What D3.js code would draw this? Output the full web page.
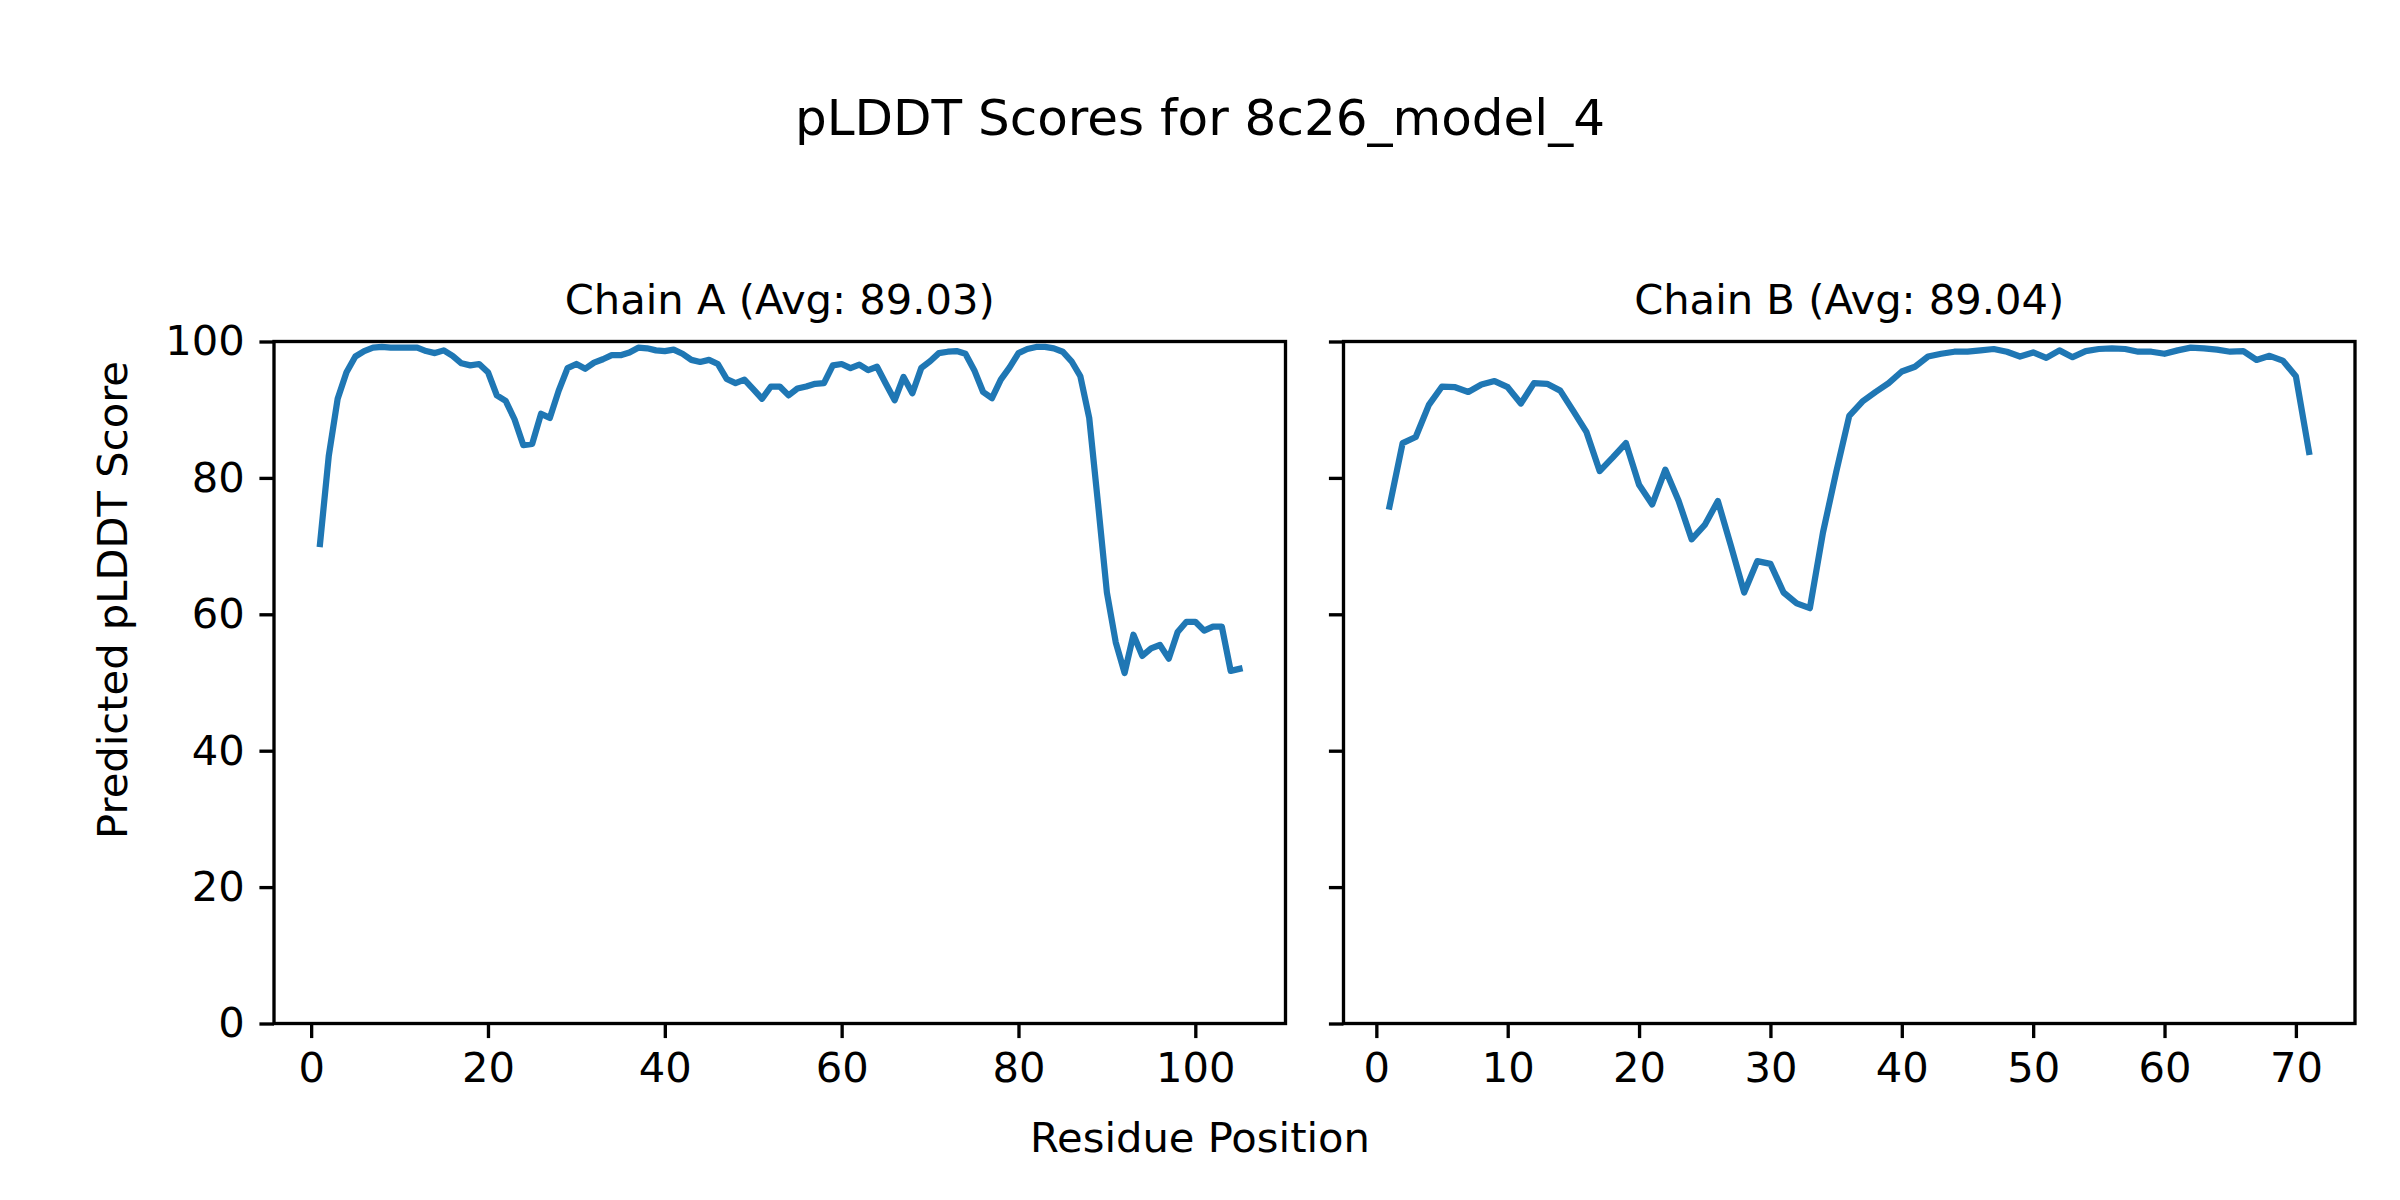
<!DOCTYPE html>
<html>
<head>
<meta charset="utf-8">
<script src="https://cdn.jsdelivr.net/npm/d3@7"></script>
<style>
  body { margin: 0; background: #fff; }
  text { font-family: 'DejaVu Sans', sans-serif; fill: #000; }
</style>
</head>
<body>
<div id="chart"></div>
<script>
// pLDDT per residue
let chainA = [
  70.3, 83.3, 91.6, 95.5, 97.8, 98.6, 99.1, 99.2, 99.1, 99.1,
  99.1, 99.1, 98.6, 98.3, 98.7, 97.9, 96.8, 96.5, 96.7, 95.5,
  92.1, 91.3, 88.6, 84.8, 85.0, 89.4, 88.8, 92.8, 96.1, 96.7,
  96.0, 96.9, 97.4, 98.0, 98.0, 98.4, 99.1, 99.0, 98.7, 98.6,
  98.8, 98.2, 97.3, 97.0, 97.3, 96.7, 94.5, 93.9, 94.4, 93.0,
  91.6, 93.4, 93.4, 92.1, 93.1, 93.4, 93.8, 93.9, 96.5, 96.7,
  96.1, 96.6, 95.8, 96.3, 93.8, 91.4, 94.8, 92.4, 96.1, 97.1,
  98.3, 98.5, 98.6, 98.2, 95.8, 92.6, 91.7, 94.4, 96.2, 98.3,
  98.9, 99.2, 99.2, 99.0, 98.5, 97.1, 94.9, 88.8, 76.2, 63.2,
  55.9, 51.4, 57.0, 53.9, 55.0, 55.5, 53.5, 57.4, 58.9, 58.9,
  57.6, 58.2, 58.2, 51.7, 52.0
]
let chainB = [
  75.8, 85.1, 86.0, 90.7, 93.4, 93.3, 92.6, 93.7, 94.2, 93.3,
  90.9, 93.9, 93.8, 92.8, 89.8, 86.7, 81.0, 83.0, 85.1, 79.0,
  76.1, 81.2, 76.7, 71.0, 73.1, 76.6, 70.0, 63.2, 67.8, 67.4,
  63.2, 61.6, 60.9, 72.0, 80.8, 89.1, 91.2, 92.6, 93.9, 95.6,
  96.3, 97.8, 98.2, 98.5, 98.5, 98.7, 98.9, 98.5, 97.8, 98.4,
  97.6, 98.7, 97.7, 98.6, 98.9, 99.0, 98.9, 98.5, 98.5, 98.2,
  98.7, 99.1, 99.0, 98.8, 98.5, 98.6, 97.3, 97.9, 97.2, 94.9,
  83.8
]
let chainTitles = ['Chain A (Avg: 89.03)', 'Chain B (Avg: 89.04)']
let ticksA = [0, 20, 40, 60, 80, 100]
let ticksB = [0, 10, 20, 30, 40, 50, 60, 70]
let ticksY = [0, 20, 40, 60, 80, 100]
let figTitle = 'pLDDT Scores for 8c26_model_4'
let xLabel = 'Residue Position'
let yLabel = 'Predicted pLDDT Score'

let width = 2400
let height = 1200
// 300 dpi: 10pt = 41.67px, 0.8pt = 3.33px
let pt = 300 / 72
let fontSize = 10 * pt
let tickLen = 3.5 * pt
let spineW = 0.8 * pt

let svg = d3
  .select('#chart')
  .append('svg')
  .attr('width', width)
  .attr('height', height)

svg.append('rect').attr('width', width).attr('height', height).attr('fill', '#fff')

let plotTop = 341.5
let plotBottom = 1023.5
let y = d3.scaleLinear().domain([0, 100]).range([plotBottom, plotTop])

// matplotlib-style 5% margins on x
function padded(n) {
  let m = (n - 1) * 0.05
  return [1 - m, n + m]
}

let panels = [
  { data: chainA, title: chainTitles[0], ticks: ticksA, left: 274, right: 1285.5, labels: true },
  { data: chainB, title: chainTitles[1], ticks: ticksB, left: 1343.5, right: 2355, labels: false }
]

let line = d3.line()

panels.forEach(function(p) {
  let x = d3.scaleLinear().domain(padded(p.data.length)).range([p.left, p.right])
  let g = svg.append('g')

  // data line
  g.append('path')
    .datum(p.data)
    .attr('d', line.x((d, i) => x(i + 1)).y(d => y(d)))
    .attr('fill', 'none')
    .attr('stroke', '#1f77b4')
    .attr('stroke-width', 1.5 * pt)
    .attr('stroke-linejoin', 'round')
    .attr('stroke-linecap', 'square')

  // x axis
  let xAxis = g.append('g')
    .attr('transform', `translate(0,${plotBottom})`)
    .call(d3.axisBottom(x).tickValues(p.ticks).tickSize(tickLen).tickPadding(tickLen).tickSizeOuter(0))
  xAxis.select('.domain').remove()

  // y axis
  let yAxis = g.append('g')
    .attr('transform', `translate(${p.left},0)`)
    .call(d3.axisLeft(y).tickValues(ticksY).tickSize(tickLen).tickPadding(tickLen).tickSizeOuter(0))
  yAxis.select('.domain').remove()
  if (!p.labels) yAxis.selectAll('text').remove()

  g.selectAll('.tick line').attr('stroke', '#000').attr('stroke-width', spineW)
  g.selectAll('.tick text')
    .attr('font-size', fontSize)
    .attr('font-family', 'DejaVu Sans')
    .attr('fill', '#000')

  // frame
  g.append('rect')
    .attr('x', p.left)
    .attr('y', plotTop)
    .attr('width', p.right - p.left)
    .attr('height', plotBottom - plotTop)
    .attr('fill', 'none')
    .attr('stroke', '#000')
    .attr('stroke-width', spineW)

  // subplot title
  g.append('text')
    .attr('x', (p.left + p.right) / 2)
    .attr('y', 314)
    .attr('text-anchor', 'middle')
    .attr('font-size', fontSize)
    .text(p.title)
})

svg.append('text')
  .attr('x', width / 2)
  .attr('y', 135)
  .attr('text-anchor', 'middle')
  .attr('font-size', 12 * pt)
  .text(figTitle)

svg.append('text')
  .attr('x', width / 2)
  .attr('y', 1152)
  .attr('text-anchor', 'middle')
  .attr('font-size', fontSize)
  .text(xLabel)

svg.append('text')
  .attr('transform', `translate(127,600) rotate(-90)`)
  .attr('text-anchor', 'middle')
  .attr('font-size', fontSize)
  .text(yLabel)
</script>
</body>
</html>
